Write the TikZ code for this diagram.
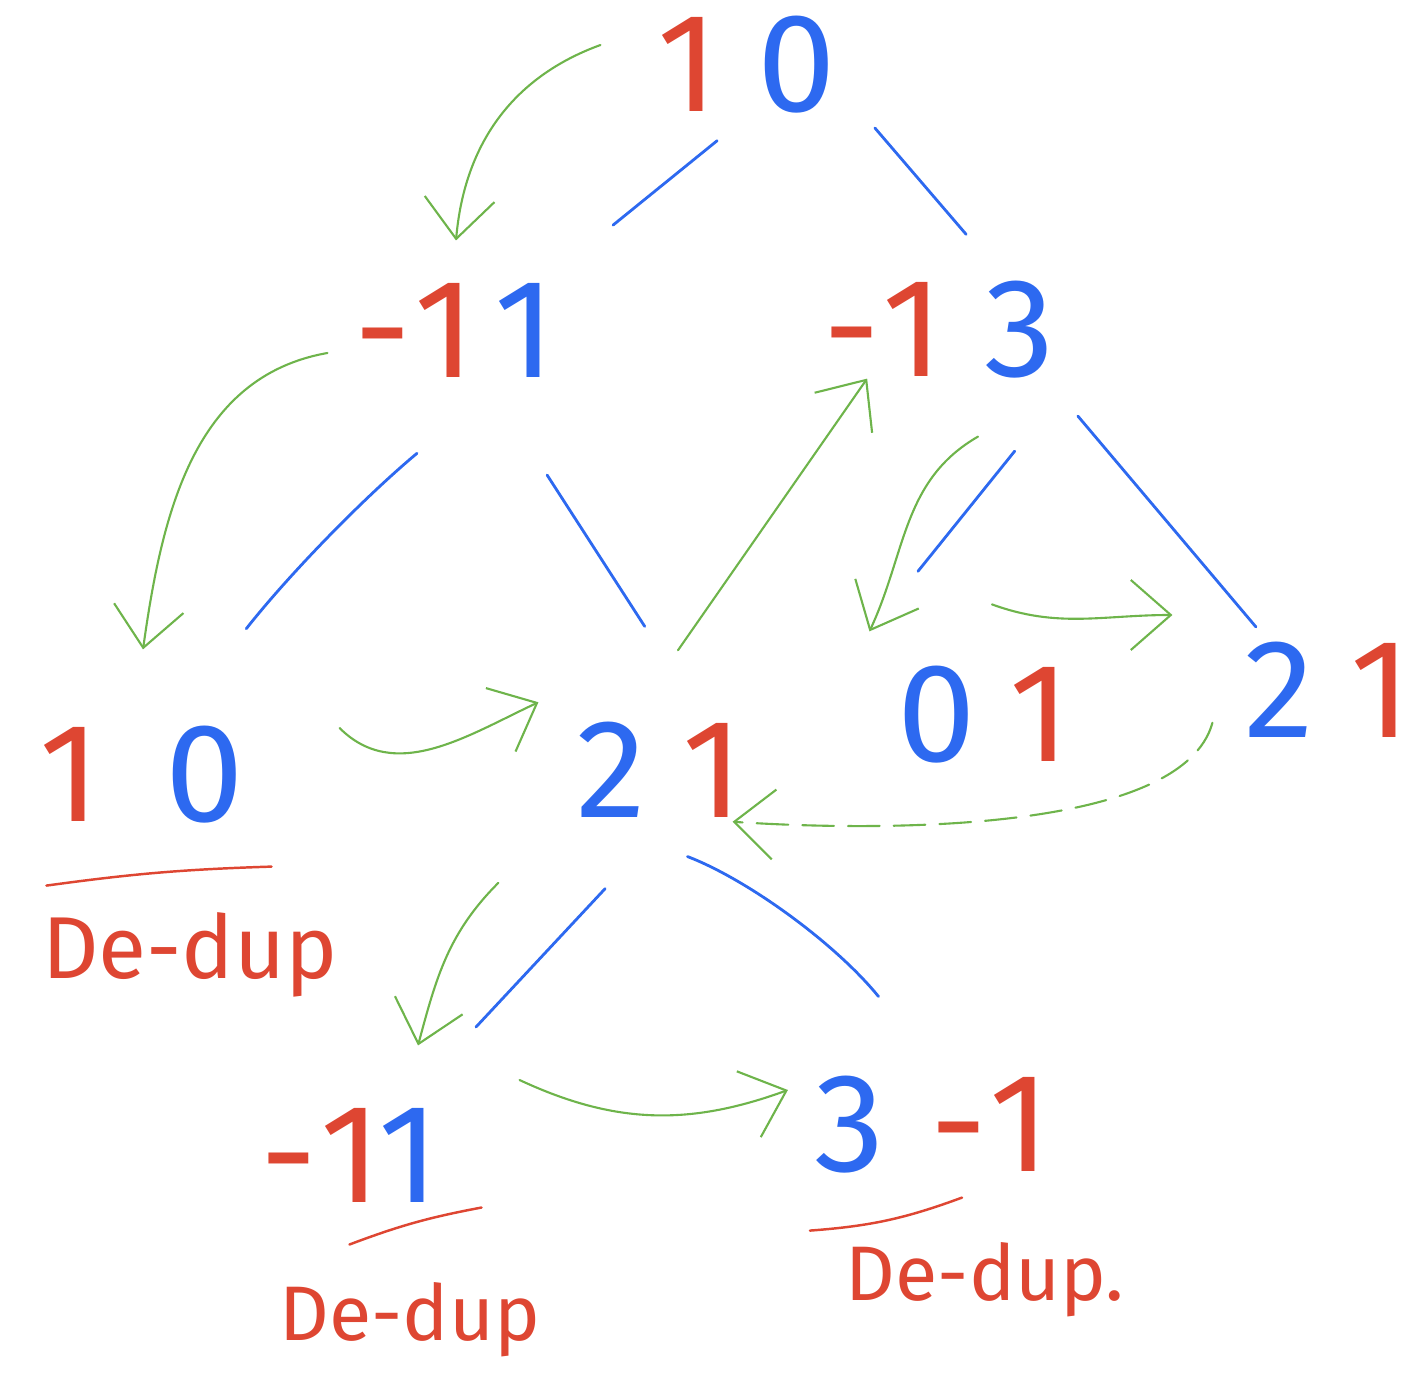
\documentclass[tikz,border=0pt]{standalone}
\usepackage{fontspec}
\newfontfamily\handfont{Fira Sans}
\usepackage{xcolor}
\usepackage{tikz}
\usetikzlibrary{arrows.meta}
\definecolor{myred}{RGB}{222,70,50}
\definecolor{myblue}{RGB}{45,105,240}
\definecolor{mygreen}{RGB}{110,180,75}
\newcommand{\dig}[2]{\makebox[0.74cm]{\textcolor{#1}{#2}}}
\newcommand{\mns}[1]{\makebox[0.49cm]{\textcolor{#1}{-}}}
\tikzset{
  pairnode/.style={inner sep=0pt, outer sep=0pt, minimum height=0.95cm, font=\handfont\fontsize{40}{40}\selectfont},
  link/.style={myblue, line width=0.8pt, line cap=round},
  walk/.style={mygreen, line width=0.6pt, line cap=round, -{Straight Barb[length=4mm,width=7mm]}},
  dedup/.style={text=myred, inner sep=0pt, font=\handfont\fontsize{22}{22}\selectfont},
  underline/.style={myred, line width=0.7pt, line cap=round}
}

\begin{document}
\begin{tikzpicture}[x=0.01cm, y=0.01cm]
    \useasboundingbox (0,0) rectangle (1411,-1400);

    % numbers
    \node[pairnode] (top) at (742,-65) {\dig{myred}{1}\hspace{0.35cm}\dig{myblue}{0}};
    \node[pairnode] (n11) at (460,-330) {\mns{myred}\dig{myred}{1}\hspace{0.06cm}\dig{myblue}{1}};
    \node[pairnode] (n13) at (942,-330) {\mns{myred}\dig{myred}{1}\hspace{0.33cm}\dig{myblue}{3}};
    \node[pairnode] (l10) at (137,-775) {\dig{myred}{1}\hspace{0.61cm}\dig{myblue}{0}};
    \node[pairnode] (m21) at (662,-770) {\dig{myblue}{2}\hspace{0.27cm}\dig{myred}{1}};
    \node[pairnode] (m01) at (988,-715) {\dig{myblue}{0}\hspace{0.29cm}\dig{myred}{1}};
    \node[pairnode] (r21) at (1330,-690) {\dig{myblue}{2}\hspace{0.27cm}\dig{myred}{1}};
    \node[pairnode] (b11) at (355,-1155) {\mns{myred}\dig{myred}{1}\hspace{-0.16cm}\dig{myblue}{1}};
    \node[pairnode] (b31) at (935,-1125) {\dig{myblue}{3}\hspace{0.47cm}\mns{myred}\dig{myred}{1}};

    % de-dup notes
    \node[dedup, font=\handfont\fontsize{25}{25}\selectfont] (dd1) at (190,-955) {De-dup};
    \node[dedup] (dd2) at (410,-1320) {De-dup};
    \node[dedup] (dd3) at (985,-1280) {De-dup.};
    \draw[underline] ([shift={(14,-62)}]l10.south west) to[bend left=3] ([shift={(30,-43)}]l10.south east);
    \draw[underline] ([shift={(85,-42)}]b11.south west) to[bend left=5] ([shift={(36,-5)}]b11.south east);
    \draw[underline] ([shift={(-3,-57)}]b31.south west) to[bend right=8] ([shift={(27,-24)}]b31.south);

    % tree edges
    \draw[link, shorten <=0.43cm, shorten >=0.91cm] (top.-80) -- (n11.30);
    \draw[link, shorten <=0.19cm, shorten >=0.62cm] ([shift={(29,0)}]top.south east) -- (n13.37);
    \draw[link, shorten <=1.18cm, shorten >=1.24cm] (n11.-45) to[bend right=6] (l10.56);
    \draw[link, shorten <=1.16cm, shorten >=1.14cm] (n11.-63) -- (m21.47);
    \draw[link, shorten <=0.93cm, shorten >=1.22cm] ([shift={(16,0)}]n13.south east) -- ([shift={(-58,0)}]m01.north west);
    \draw[link, shorten <=0.49cm, shorten >=0.2cm] (n13.-25) -- (r21.142);
    \draw[link, shorten <=0.97cm, shorten >=1.1cm] (m21.-79) -- (b11.46);
    \draw[link, shorten <=1.09cm, shorten >=1.03cm] (m21.-148) to[bend left=15] (b31.80);

    % visiting order
    \draw[walk] ([shift={(-50,20)}]top.west) to[out=200, in=85] ([shift={(-4,42)}]n11.north);
    \draw[walk] ([shift={(-31,-23)}]n11.west) to[out=190, in=82] ([shift={(6,77)}]l10.north);
    \draw[walk] ([shift={(98,47)}]l10.east) to[out=-45, in=205] ([shift={(-36,20)}]m21.north west);
    \draw[walk] ([shift={(16,72)}]m21.north) -- (n13.-147);
    \draw[walk] ([shift={(36,-58)}]n13.south) to[out=210, in=65] ([shift={(-30,35)}]m01.north west);
    \draw[walk] ([shift={(4,62)}]m01.north) to[out=-20, in=180] ([shift={(-70,75)}]r21.west);
    \draw[walk, dash pattern=on 9pt off 4pt] ([shift={(-30,15)}]r21.south west) .. controls +(-30,-110) and +(150,-10) .. ([shift={(-17,-4)}]m21.south east);
    \draw[walk] ([shift={(-76,-65)}]m21.south west) to[out=225, in=75] ([shift={(63,62)}]b11.north);
    \draw[walk] ([shift={(74,75)}]b11.east) to[out=-25, in=200] ([shift={(-25,35)}]b31.west);

\end{tikzpicture}
\end{document}
